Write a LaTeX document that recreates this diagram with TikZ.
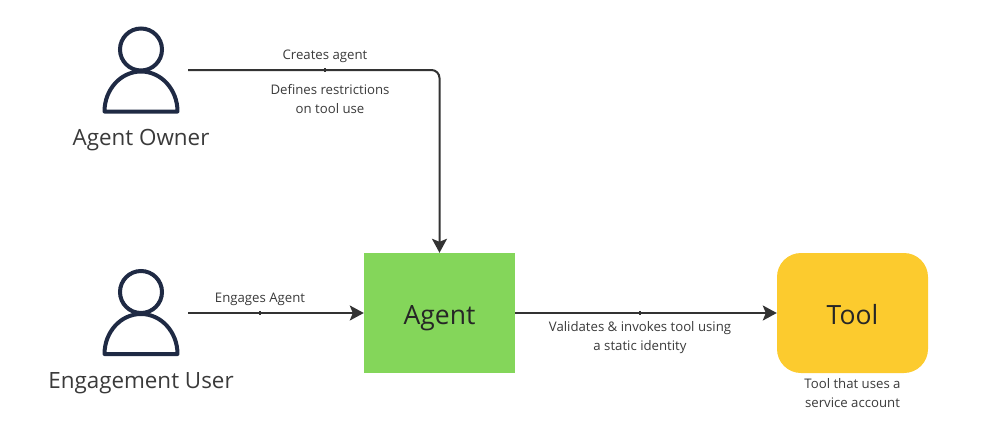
\documentclass[tikz,border=0pt]{standalone}
\usepackage{fontspec}
\setmainfont{Open Sans}
\usetikzlibrary{arrows.meta}

\definecolor{inkline}{HTML}{333333}
\definecolor{inkperson}{HTML}{1F2A44}
\definecolor{inktext}{HTML}{3A3A3A}
\definecolor{agentgreen}{HTML}{84D65A}
\definecolor{toolyellow}{HTML}{FCCB2E}

\tikzset{
	link/.style={draw=inkline, line width=2pt, -{Stealth[length=14pt,width=15pt,inset=3pt]}},
	tick/.style={fill=inkline, inner sep=0pt, minimum width=2pt, minimum height=4pt},
	actor/.style={minimum width=94pt, minimum height=4pt, inner sep=0pt},
	caption/.style={text=inktext, font=\fontsize{13.2}{19}\selectfont, align=center},
	title/.style={text=inktext, font=\fontsize{22.4}{26}\selectfont},
	block/.style={minimum width=151pt, minimum height=120pt, inner sep=0pt, text height=22pt, text depth=0pt, text=black!85, font=\fontsize{26.5}{32}\selectfont},
	person/.pic={
		\draw[inkperson, line width=4pt] (0,0) circle (21);
		\draw[inkperson, line width=4pt, line join=round] (-36.5,62) arc[start angle=180, end angle=360, x radius=36.5, y radius=40] -- cycle;
	}
}

\begin{document}
\begin{tikzpicture}[x=1pt, y=-1pt]
	\useasboundingbox (0,0) rectangle (1005,440);

	\pic at (141,49.5) {person};
	\pic at (141,292) {person};

	\node[actor] (owner) at (141,70) {};
	\node[actor] (user) at (141,313) {};
	\node[block, fill=agentgreen] (agent) at (439.5,313) {Agent};
	\node[block, fill=toolyellow, rounded corners=24pt] (tool) at (852.5,313) {Tool};

	\node[title] (ownername) at (141,140.5) {Agent Owner};
	\node[title] (username) at (141,383) {Engagement User};

	\draw[link, rounded corners=8pt] (owner.east) -| (agent.north);
	\draw[link] (user.east) -- (agent.west);
	\draw[link] (agent.east) -- (tool.west);

	\node[tick] (tickowner) at (325,70) {};
	\node[tick] (tickuser) at (260,313) {};
	\node[tick] (ticktool) at (640,313) {};

	\node[caption] (creates) at (325,56) {Creates agent};
	\node[caption] (defines) at (330,99) {Defines restrictions\\on tool use};
	\node[caption] (engages) at (260,299) {Engages Agent};
	\node[caption] (validates) at (640,338) {Validates \& invokes tool using\\a static identity};
	\node[caption] (toolnote) at (852.5,393) {Tool that uses a\\service account};
\end{tikzpicture}
\end{document}
